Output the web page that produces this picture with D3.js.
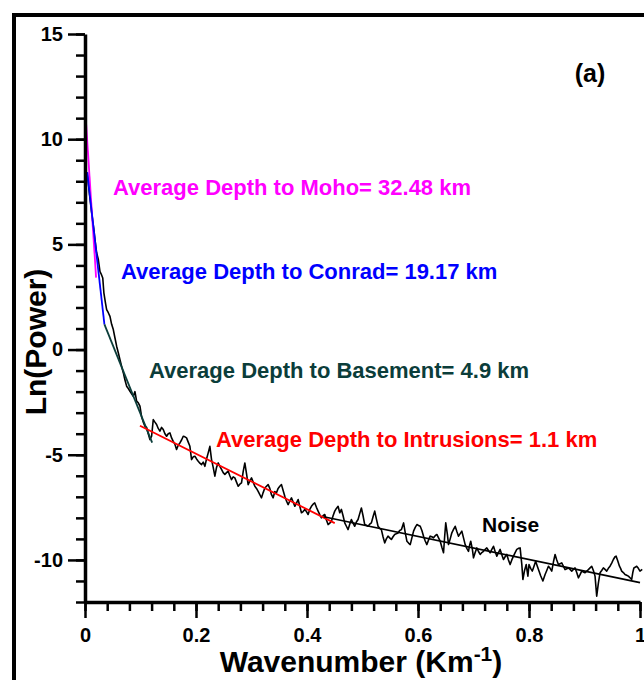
<!DOCTYPE html>
<html><head><meta charset="utf-8">
<script src="https://cdn.jsdelivr.net/npm/d3@7"></script>
<style>html,body{margin:0;padding:0;background:#fff;}svg{display:block;font-family:"Liberation Sans",Arial,sans-serif;}</style>
</head><body>
<script>
// ---------- data ----------
const wavenumber = [0.004,0.008,0.012,0.016,0.018,0.021,0.024,0.027,0.029,0.032,0.034,0.037,0.039,0.042,0.045,0.048,0.051,0.054,0.057,0.060,0.063,0.066,0.069,0.072,0.075,0.078,0.081,0.084,0.087,0.090,0.093,0.096,0.099,0.102,0.105,0.108,0.111,0.114,0.117,0.120,0.123,0.126,0.129,0.132,0.135,0.138,0.141,0.144,0.147,0.150,0.153,0.156,0.159,0.162,0.165,0.168,0.171,0.174,0.177,0.180,0.183,0.186,0.189,0.192,0.195,0.198,0.201,0.204,0.207,0.210,0.213,0.216,0.219,0.222,0.225,0.228,0.231,0.234,0.237,0.240,0.243,0.246,0.249,0.252,0.255,0.258,0.261,0.264,0.267,0.270,0.273,0.276,0.279,0.282,0.285,0.288,0.291,0.294,0.297,0.300,0.303,0.306,0.309,0.312,0.315,0.318,0.321,0.324,0.327,0.330,0.333,0.336,0.339,0.342,0.345,0.348,0.351,0.354,0.357,0.360,0.363,0.366,0.369,0.372,0.375,0.378,0.381,0.384,0.387,0.390,0.393,0.396,0.399,0.402,0.405,0.408,0.411,0.414,0.417,0.420,0.423,0.426,0.429,0.432,0.435,0.438,0.441,0.444,0.447,0.450,0.453,0.456,0.459,0.462,0.465,0.468,0.471,0.474,0.477,0.480,0.483,0.486,0.489,0.492,0.495,0.498,0.501,0.504,0.507,0.510,0.513,0.516,0.519,0.522,0.525,0.528,0.531,0.534,0.537,0.540,0.543,0.546,0.549,0.552,0.555,0.558,0.561,0.564,0.567,0.570,0.574,0.577,0.580,0.583,0.586,0.589,0.592,0.595,0.598,0.601,0.604,0.607,0.610,0.613,0.616,0.619,0.622,0.625,0.628,0.631,0.634,0.637,0.640,0.643,0.646,0.648,0.650,0.653,0.655,0.658,0.661,0.664,0.667,0.670,0.673,0.676,0.679,0.682,0.685,0.688,0.691,0.693,0.695,0.698,0.700,0.703,0.706,0.709,0.712,0.715,0.718,0.721,0.724,0.727,0.730,0.733,0.736,0.739,0.742,0.745,0.748,0.751,0.754,0.757,0.760,0.763,0.766,0.769,0.772,0.775,0.778,0.781,0.784,0.787,0.789,0.792,0.795,0.798,0.800,0.803,0.806,0.809,0.812,0.815,0.818,0.821,0.825,0.827,0.829,0.832,0.835,0.838,0.841,0.844,0.847,0.850,0.853,0.856,0.859,0.862,0.865,0.868,0.871,0.874,0.877,0.880,0.883,0.886,0.889,0.892,0.895,0.898,0.901,0.904,0.907,0.910,0.913,0.916,0.919,0.922,0.925,0.928,0.931,0.934,0.937,0.940,0.943,0.946,0.949,0.952,0.955,0.957,0.960,0.963,0.965,0.967,0.970,0.973,0.976,0.979,0.982,0.985,0.987,0.989,0.992,0.994,0.997,1.000,1.004];
const lnPower = [8.4,7.4,6.5,5.7,5.23,4.6,4.28,3.7,3.6,3.4,2.7,2.2,1.9,1.75,1.58,1.2,0.95,0.55,0.16,-0.15,-0.48,-0.8,-1.1,-1.45,-1.74,-1.85,-1.98,-2.1,-2.22,-2.0,-2.45,-2.53,-2.69,-3.2,-3.45,-3.64,-3.7,-4.0,-4.28,-4.12,-3.33,-3.45,-3.56,-3.75,-3.88,-3.7,-3.8,-4.0,-4.12,-4.0,-3.96,-4.2,-4.36,-4.5,-4.75,-4.55,-4.44,-4.3,-4.12,-4.15,-4.2,-4.4,-4.6,-5.23,-5.1,-5.07,-5.2,-5.31,-5.4,-5.47,-5.35,-5.55,-5.2,-4.91,-4.6,-5.23,-5.6,-6.02,-5.6,-5.39,-5.55,-5.7,-5.85,-5.94,-5.85,-5.78,-6.0,-6.18,-6.05,-6.1,-6.3,-6.5,-6.4,-6.34,-5.8,-5.39,-5.9,-6.42,-6.25,-6.1,-6.3,-6.5,-6.6,-6.74,-6.9,-7.05,-6.8,-6.58,-6.5,-6.42,-6.6,-6.9,-7.05,-6.75,-6.81,-6.6,-6.5,-6.42,-6.7,-6.97,-7.2,-7.37,-7.2,-7.05,-7.25,-7.45,-7.3,-7.13,-7.45,-7.76,-7.7,-7.6,-7.7,-7.84,-7.6,-7.45,-7.35,-7.29,-7.5,-7.68,-7.85,-8.0,-7.9,-7.84,-8.1,-8.32,-8.25,-8.16,-7.9,-7.68,-7.55,-7.45,-7.76,-7.6,-7.9,-8.24,-8.4,-8.56,-8.3,-8.08,-8.25,-8.4,-8.2,-8.08,-7.8,-7.53,-7.9,-8.32,-8.35,-8.4,-8.3,-8.24,-7.95,-7.68,-8.05,-8.4,-8.5,-8.56,-8.9,-9.19,-9.0,-8.87,-8.95,-9.03,-8.9,-8.79,-8.75,-8.72,-8.6,-8.56,-8.24,-8.7,-9.11,-9.2,-9.27,-8.95,-8.63,-8.45,-8.32,-8.36,-8.4,-8.6,-8.87,-9.1,-9.27,-9.05,-8.87,-8.9,-8.95,-8.85,-8.79,-8.95,-9.11,-9.4,-9.66,-8.9,-8.24,-8.8,-9.27,-9.0,-8.71,-8.55,-8.4,-8.65,-8.87,-8.75,-8.63,-8.95,-9.27,-9.45,-9.59,-9.3,-9.11,-9.5,-9.9,-9.65,-9.43,-9.6,-9.74,-9.65,-9.59,-9.5,-9.43,-9.55,-9.66,-9.5,-9.35,-9.6,-9.82,-9.65,-9.5,-9.75,-9.98,-9.85,-9.74,-10.0,-10.22,-10.0,-9.82,-9.65,-9.5,-9.45,-9.43,-10.2,-10.93,-10.5,-10.22,-10.77,-10.22,-10.4,-10.53,-10.3,-10.06,-10.3,-10.53,-10.75,-11.0,-10.85,-10.69,-10.5,-10.3,-10.4,-10.53,-10.1,-9.74,-10.0,-10.22,-10.18,-10.14,-10.3,-10.46,-10.42,-10.38,-10.45,-10.53,-10.45,-10.38,-10.6,-10.85,-10.7,-10.53,-10.57,-10.61,-10.53,-10.46,-10.38,-10.3,-10.5,-10.77,-11.72,-11.1,-10.61,-10.5,-10.38,-10.45,-10.53,-10.4,-10.3,-10.15,-9.98,-9.85,-9.82,-10.05,-10.3,-10.4,-10.53,-10.6,-10.69,-10.73,-10.77,-10.85,-10.93,-10.6,-10.38,-10.34,-10.3,-10.4,-10.53,-10.45];

// fitted segments: [x0, y0, x1, y1]
const fitNames = ["Moho", "Conrad", "Basement", "Intrusions", "Noise"];
const fitX0 = [0.0, 0.004, 0.035, 0.099, 0.43];
const fitY0 = [11.55, 8.43, 1.2, -3.62, -7.95];
const fitX1 = [0.02, 0.035, 0.121, 0.45, 1.0];
const fitY1 = [3.42, 1.19, -4.42, -8.25, -11.08];

const labelTexts = ["Average Depth to Moho= 32.48 km", "Average Depth to Conrad= 19.17 km", "Average Depth to Basement= 4.9 km", "Average Depth to Intrusions= 1.1 km", "Noise"];

const xMajorTicks = [0, 0.2, 0.4, 0.6, 0.8, 1];
const yMajorTicks = [-10, -5, 0, 5, 10, 15];

// ---------- styles ----------
const fitColors = ["#ff00ff", "#0000ff", "#0b3d3a", "#ff0000", "#000000"];
const labelPos = [[113, 195], [121, 279], [149, 378], [216, 447], [482, 532]];
const labelSizes = [22, 22, 22, 22, 21];

const W = 644, H = 680;
const svg = d3.select("body").append("svg").attr("width", W).attr("height", H);

const x = d3.scaleLinear().domain([0, 1]).range([85, 640]);
const y = d3.scaleLinear().domain([-12, 15]).range([602, 34]);

// frame
svg.append("rect").attr("x", 14).attr("y", 15).attr("width", 700).attr("height", 720)
  .attr("fill", "none").attr("stroke", "#000").attr("stroke-width", 4);

// data curve
const pts = wavenumber.map((w, i) => [w, lnPower[i]]);
svg.append("path").datum(pts)
  .attr("d", d3.line().x(d => x(d[0])).y(d => y(d[1])))
  .attr("fill", "none").attr("stroke", "#000").attr("stroke-width", 1.6).attr("stroke-linejoin", "round");

// fit lines
fitNames.forEach((n, i) => {
  svg.append("line")
    .attr("x1", x(fitX0[i])).attr("y1", y(fitY0[i]))
    .attr("x2", x(fitX1[i])).attr("y2", y(fitY1[i]))
    .attr("stroke", fitColors[i]).attr("stroke-width", i === 4 ? 1.6 : 1.8);
});

// axes
const tickFont = g => g.selectAll("text").attr("font-size", 20).attr("font-weight", "bold").attr("fill", "#000").attr("font-family", "Liberation Sans, Arial, sans-serif");

const yMinor = d3.range(-12, 16, 1);
svg.append("g").attr("transform", "translate(85,0)")
  .call(d3.axisLeft(y).tickValues(yMinor).tickSize(9).tickSizeOuter(0).tickFormat(""))
  .call(g => g.selectAll("line").attr("stroke-width", 2.5))
  .call(g => g.select(".domain").attr("stroke-width", 3.5));
svg.append("g").attr("transform", "translate(85,0)")
  .call(d3.axisLeft(y).tickValues(yMajorTicks).tickSize(17).tickSizeOuter(0).tickPadding(5).tickFormat(d => String(d)))
  .call(g => g.selectAll("line").attr("stroke-width", 2.5))
  .call(g => g.select(".domain").remove())
  .call(tickFont);

const xMinor = d3.range(0, 1.001, 0.04);
svg.append("g").attr("transform", "translate(0,602)")
  .call(d3.axisBottom(x).tickValues(xMinor).tickSize(9).tickSizeOuter(0).tickFormat(""))
  .call(g => g.selectAll("line").attr("stroke-width", 2.5))
  .call(g => g.select(".domain").attr("stroke-width", 3.5));
svg.append("g").attr("transform", "translate(0,602)")
  .call(d3.axisBottom(x).tickValues(xMajorTicks).tickSize(16).tickSizeOuter(0).tickPadding(10).tickFormat(d => String(d)))
  .call(g => g.selectAll("line").attr("stroke-width", 2.5))
  .call(g => g.select(".domain").remove())
  .call(tickFont);

// axis titles
svg.append("text").attr("transform", "translate(46,342) rotate(-90)")
  .attr("text-anchor", "middle").attr("font-size", 30).attr("font-weight", "bold").text("Ln(Power)");

const xt = svg.append("text").attr("x", 361).attr("y", 672).attr("text-anchor", "middle")
  .attr("font-size", 30).attr("font-weight", "bold");
xt.append("tspan").text("Wavenumber (Km");
xt.append("tspan").attr("font-size", 21).attr("dy", -11).text("-1");
xt.append("tspan").attr("dy", 11).text(")");

// panel letter
svg.append("text").attr("x", 590).attr("y", 82).attr("text-anchor", "middle")
  .attr("font-size", 25).attr("font-weight", "bold").text("(a)");

// annotations
labelTexts.forEach((t, i) => {
  svg.append("text").attr("x", labelPos[i][0]).attr("y", labelPos[i][1])
    .attr("font-size", labelSizes[i]).attr("font-weight", "bold")
    .attr("fill", fitColors[i]).text(t);
});
</script>
</body></html>
